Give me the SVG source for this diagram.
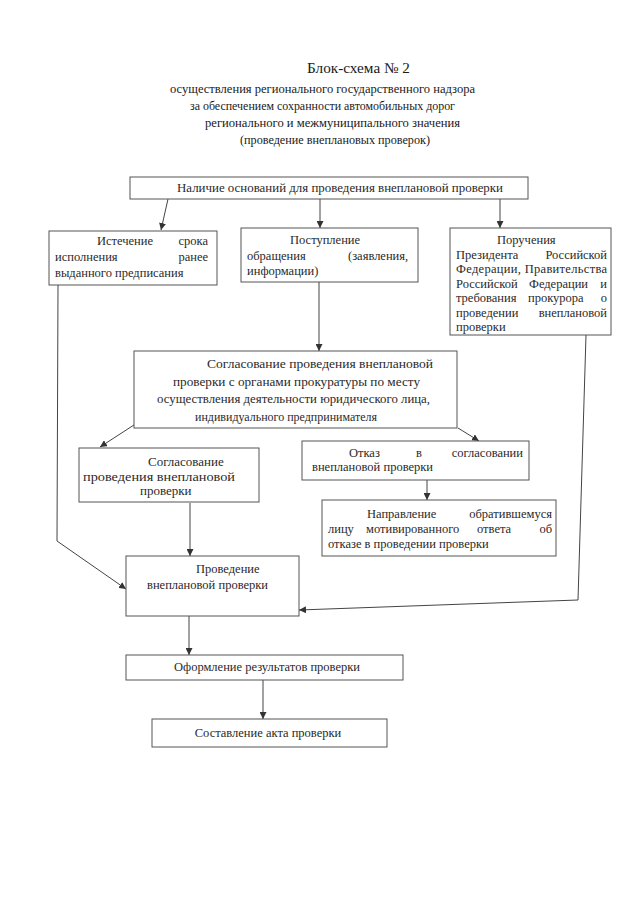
<svg xmlns="http://www.w3.org/2000/svg" width="640" height="905" viewBox="0 0 640 905">
<style>
.bg{fill:#ffffff}
.box{fill:#ffffff;stroke:#555555;stroke-width:1}
.t{font-family:"Liberation Serif","Times New Roman",serif;font-size:12.5px;fill:#2a2a2a}
.title{font-family:"Liberation Serif","Times New Roman",serif;font-size:13.5px;fill:#1a1a1a}
.c{text-anchor:middle}
.ln{fill:none;stroke:#444444;stroke-width:1}
</style>
<defs>
<marker id="ah" viewBox="0 0 10 10" refX="10" refY="5" markerWidth="7" markerHeight="7" orient="auto" markerUnits="userSpaceOnUse">
<path d="M0,0 L10,5 L0,10 z" fill="#333333"/>
</marker>
</defs>
<rect class="bg" x="0" y="0" width="640" height="905"/>
<g id="title">
<text class="title" x="307" y="73" style="font-size:15px" textLength="103" lengthAdjust="spacingAndGlyphs">Блок-схема № 2</text>
<text class="title" x="170" y="93" textLength="305" lengthAdjust="spacingAndGlyphs">осуществления регионального государственного надзора</text>
<text class="title" x="190" y="110" textLength="265" lengthAdjust="spacingAndGlyphs">за обеспечением сохранности автомобильных дорог</text>
<text class="title" x="205" y="127" textLength="255" lengthAdjust="spacingAndGlyphs">регионального и межмуниципального значения</text>
<text class="title" x="240" y="144" textLength="190" lengthAdjust="spacingAndGlyphs">(проведение внеплановых проверок)</text>
</g>
<g id="connectors">
<line class="ln" x1="168" y1="199" x2="161" y2="230" marker-end="url(#ah)"/>
<line class="ln" x1="320" y1="199" x2="320" y2="228" marker-end="url(#ah)"/>
<line class="ln" x1="500" y1="199" x2="500" y2="228" marker-end="url(#ah)"/>
<line class="ln" x1="319" y1="282" x2="319" y2="351" marker-end="url(#ah)"/>
<polyline class="ln" points="58,285 57,541 126,589" marker-end="url(#ah)"/>
<polyline class="ln" points="586,335 578,600 299,610" marker-end="url(#ah)"/>
<line class="ln" x1="137" y1="423" x2="100" y2="447" marker-end="url(#ah)"/>
<line class="ln" x1="458" y1="428" x2="479" y2="441" marker-end="url(#ah)"/>
<line class="ln" x1="427" y1="480" x2="427" y2="500" marker-end="url(#ah)"/>
<line class="ln" x1="190" y1="503" x2="190" y2="556" marker-end="url(#ah)"/>
<line class="ln" x1="189" y1="616" x2="189" y2="655" marker-end="url(#ah)"/>
<line class="ln" x1="263" y1="680" x2="263" y2="719" marker-end="url(#ah)"/>
</g>
<g id="n1">
<rect class="box" x="130" y="177" width="398" height="22"/>
<text class="t" x="177" y="192" textLength="326" lengthAdjust="spacingAndGlyphs">Наличие оснований для проведения внеплановой проверки</text>
</g>
<g id="n2">
<rect class="box" x="49" y="231" width="168" height="54"/>
<text class="t" y="245"><tspan x="97">Истечение</tspan><tspan x="208" text-anchor="end">срока</tspan></text>
<text class="t" y="261"><tspan x="55">исполнения</tspan><tspan x="208" text-anchor="end">ранее</tspan></text>
<text class="t" x="55" y="277">выданного предписания</text>
</g>
<g id="n3">
<rect class="box" x="241" y="228" width="177" height="54"/>
<text class="t" x="290" y="244">Поступление</text>
<text class="t" y="260"><tspan x="247">обращения</tspan><tspan x="348">(заявления,</tspan></text>
<text class="t" x="247" y="275">информации)</text>
</g>
<g id="n4">
<rect class="box" x="450" y="228" width="161" height="107"/>
<text class="t" x="497" y="244">Поручения</text>
<text class="t" y="258.5"><tspan x="456">Президента</tspan><tspan x="607" text-anchor="end">Российской</tspan></text>
<text class="t" x="456" y="273" textLength="151" lengthAdjust="spacing">Федерации, Правительства</text>
<text class="t" y="287.5"><tspan x="456">Российской</tspan><tspan x="529">Федерации</tspan><tspan x="607" text-anchor="end">и</tspan></text>
<text class="t" y="302"><tspan x="456">требования</tspan><tspan x="528">прокурора</tspan><tspan x="607" text-anchor="end">о</tspan></text>
<text class="t" y="316.5"><tspan x="456">проведении</tspan><tspan x="607" text-anchor="end">внеплановой</tspan></text>
<text class="t" x="456" y="331">проверки</text>
</g>
<g id="n5">
<rect class="box" x="134" y="351" width="323" height="77"/>
<text class="t" x="207" y="368" textLength="226" lengthAdjust="spacingAndGlyphs">Согласование проведения внеплановой</text>
<text class="t" x="173" y="386" textLength="247" lengthAdjust="spacingAndGlyphs">проверки с органами прокуратуры по месту</text>
<text class="t" x="157" y="403" textLength="273" lengthAdjust="spacingAndGlyphs">осуществления деятельности юридического лица,</text>
<text class="t" x="195" y="421" textLength="182" lengthAdjust="spacingAndGlyphs">индивидуального предпринимателя</text>
</g>
<g id="n6">
<rect class="box" x="79" y="448" width="180" height="54"/>
<text class="t" x="148" y="466" style="font-size:13px">Согласование</text>
<text class="t" x="83" y="481" style="font-size:13px" textLength="152" lengthAdjust="spacingAndGlyphs">проведения внеплановой</text>
<text class="t" x="140" y="495" style="font-size:13px">проверки</text>
</g>
<g id="n7">
<rect class="box" x="302" y="441" width="227" height="39"/>
<text class="t" y="457"><tspan x="349">Отказ</tspan><tspan x="416">в</tspan><tspan x="523" text-anchor="end">согласовании</tspan></text>
<text class="t" x="312" y="471">внеплановой проверки</text>
</g>
<g id="n8">
<rect class="box" x="322" y="500" width="234" height="56"/>
<text class="t" y="518"><tspan x="367">Направление</tspan><tspan x="552" text-anchor="end">обратившемуся</tspan></text>
<text class="t" y="533"><tspan x="328">лицу</tspan><tspan x="366">мотивированного</tspan><tspan x="477">ответа</tspan><tspan x="552" text-anchor="end">об</tspan></text>
<text class="t" x="328" y="548">отказе в проведении проверки</text>
</g>
<g id="n9">
<rect class="box" x="126" y="556" width="173" height="60"/>
<text class="t" x="196" y="573">Проведение</text>
<text class="t" x="147" y="589">внеплановой проверки</text>
</g>
<g id="n10">
<rect class="box" x="126" y="655" width="277" height="25"/>
<text class="t c" x="267" y="671">Оформление результатов проверки</text>
</g>
<g id="n11">
<rect class="box" x="152" y="719" width="235" height="28"/>
<text class="t c" x="268" y="737">Составление акта проверки</text>
</g>
</svg>
